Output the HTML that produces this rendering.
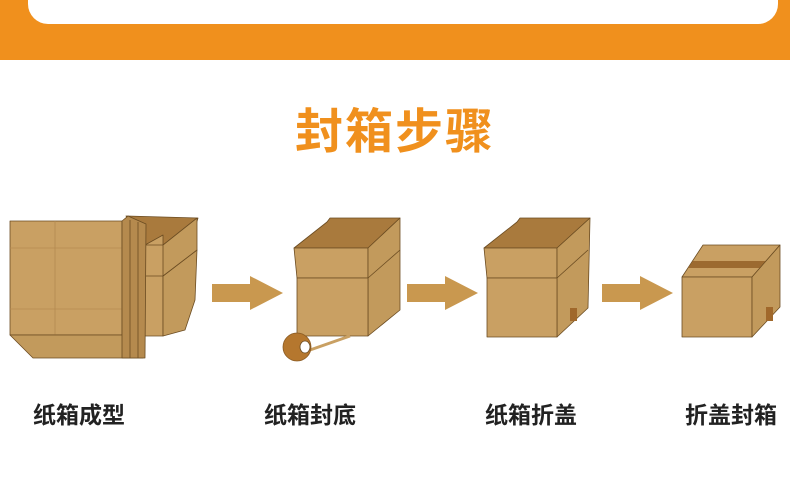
<!DOCTYPE html>
<html><head><meta charset="utf-8"><style>
body{margin:0;width:790px;height:488px;background:#fff;overflow:hidden;position:relative;font-family:"Liberation Sans","Noto Sans CJK SC",sans-serif}
.band{position:absolute;left:0;top:0;width:790px;height:60px;background:#f0901d}
.card{position:absolute;left:28px;top:-20px;width:750px;height:44px;background:#fff;border-radius:0 0 20px 20px}
.title{position:absolute;left:0;width:790px;top:92px;text-align:center;font-size:48px;font-weight:bold;color:#f0901d;letter-spacing:2px}
.lb{position:absolute;top:396px;font-size:23px;font-weight:bold;color:#222}
svg{position:absolute;left:0;top:0}
</style></head><body>
<div class="band"></div><div class="card"></div>
<div class="title">封箱步骤</div>
<svg width="790" height="488" stroke="#6b4c22" stroke-width="0.8" stroke-linejoin="round">
<!-- box1 back -->
<polygon points="126,216 198,218 190,245 145,245" fill="#a97a3d"/>
<polygon points="145,245 163,235 163,336 145,336" fill="#c9a063"/>
<polygon points="145,245 190,245 192,275 163,276 145,276" fill="#c9a063"/>
<polygon points="163,276 197,250 195,300 185,330 163,336" fill="#c29a5c"/>
<polygon points="163,245 197,218 197,250 163,276" fill="#c29a5c"/>
<!-- box1 front -->
<polygon points="10,221 122,221 122,335 10,335" fill="#c9a063"/>
<line x1="55" y1="221" x2="55" y2="335" stroke="#b48a50"/><line x1="10" y1="248" x2="122" y2="248" stroke="#b48a50"/><line x1="10" y1="309" x2="122" y2="309" stroke="#b48a50"/>
<polygon points="10,335 145,335 143,358 33,358" fill="#c29a5c"/>
<polygon points="122,221 128,216 146,224 145,358 122,358" fill="#b58a4e"/>
<line x1="130" y1="220" x2="130" y2="358"/><line x1="138" y1="222" x2="138" y2="358"/>
<!-- arrows -->
<g fill="#c9984f" stroke="none">
<polygon points="212,284 250,284 250,276 283,293 250,310 250,302 212,302"/>
<polygon points="407,284 445,284 445,276 478,293 445,310 445,302 407,302"/>
<polygon points="602,284 640,284 640,276 673,293 640,310 640,302 602,302"/>
</g>
<!-- box2 -->
<polygon points="294,248 327,222 330,218 400,218 368,248" fill="#a97a3d"/>
<polygon points="294,248 368,248 368,278 297,278" fill="#c9a063"/>
<polygon points="368,248 400,218 400,310 368,336" fill="#c29a5c"/>
<line x1="368" y1="278" x2="400" y2="250"/>
<polygon points="297,278 368,278 368,336 297,336" fill="#c9a063"/>
<line x1="310" y1="350" x2="350" y2="336" stroke="#c9a063" stroke-width="3"/>
<circle cx="297" cy="347" r="14" fill="#b5772e" stroke="#8a5a22"/><ellipse cx="305" cy="347" rx="5" ry="6" fill="#fff"/>
<!-- box3 -->
<polygon points="484,248 517,222 520,218 590,218 557,248" fill="#a97a3d"/>
<polygon points="484,248 557,248 557,278 487,278" fill="#c9a063"/>
<polygon points="557,248 590,218 588,308 557,337" fill="#c29a5c"/>
<line x1="557" y1="278" x2="588" y2="250"/>
<polygon points="487,278 557,278 557,337 487,337" fill="#c9a063"/>
<rect x="570" y="308" width="7" height="13" fill="#a0682b" stroke="none"/>
<!-- box4 -->
<polygon points="682,277 703,245 780,245 752,277" fill="#c9a063"/>
<polygon points="693,261 770,261 764,268 688,268" fill="#9c6a30" stroke="none"/>
<polygon points="682,277 752,277 752,337 682,337" fill="#c9a063"/>
<polygon points="752,277 780,245 780,307 752,337" fill="#c29a5c"/>
<rect x="766" y="307" width="7" height="14" fill="#a0682b" stroke="none"/>
</svg>
<div class="lb" style="left:33px">纸箱成型</div>
<div class="lb" style="left:264px">纸箱封底</div>
<div class="lb" style="left:485px">纸箱折盖</div>
<div class="lb" style="left:685px">折盖封箱</div>
</body></html>
